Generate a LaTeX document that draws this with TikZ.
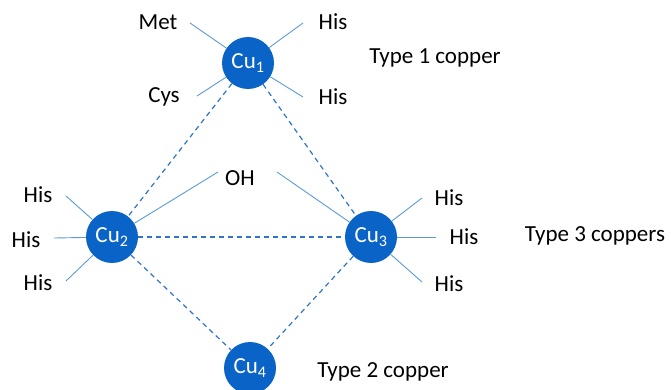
\documentclass[tikz,border=0pt]{standalone}
\usepackage{fontspec}
\setmainfont{Carlito}
\usetikzlibrary{positioning}
\definecolor{cublue}{HTML}{0A63C6}
\definecolor{bond}{HTML}{2E75C6}
\definecolor{ligand}{HTML}{5B9BD5}

\begin{document}
\begin{tikzpicture}[x=1pt, y=-1pt,
  copper/.style={circle, fill=cublue, minimum size=52pt,
                 inner sep=0pt, text=white, font=\fontsize{23}{27}\selectfont},
  label/.style={font=\fontsize{23}{27}\selectfont, text=black, inner sep=1pt},
  bond/.style={draw=bond, dash pattern=on 5pt off 4pt, line width=1.2pt},
  lig/.style={draw=ligand, line width=0.9pt},
]
  \useasboundingbox (0,0) rectangle (671,390);

  % copper centres
  \node[copper] (cu1) at (248,63)  {Cu\textsubscript{1}};
  \node[copper] (cu2) at (112,237) {Cu\textsubscript{2}};
  \node[copper] (cu3) at (371,237) {Cu\textsubscript{3}};
  \node[copper] (cu4) at (250,368) {Cu\textsubscript{4}};

  \draw[bond] (cu1) -- (cu2);
  \draw[bond] (cu1) -- (cu3);
  \draw[bond] (cu2) -- (cu3);
  \draw[bond] (cu2) -- (cu4);
  \draw[bond] (cu3) -- (cu4);

  % type 1
  \node[label] (met)  at (158,22) {Met};
  \node[label] (his1) at (333,22) {His};
  \node[label] (cys)  at (164,97) {Cys};
  \node[label] (his2) at (333,97) {His};
  \node[label] (t1)   at (435,58) {Type 1 copper};
  \coordinate (met-e)  at (190,23);
  \coordinate (his1-e) at (303,23);
  \coordinate (cys-e)  at (197,96);
  \coordinate (his2-e) at (303,97);
  \draw[lig] (met-e) -- (cu1);
  \draw[lig] (his1-e) -- (cu1);
  \draw[lig] (cys-e) -- (cu1);
  \draw[lig] (his2-e) -- (cu1);

  % type 3
  \node[label] (oh)   at (240,178) {OH};
  \coordinate (oh-w) at (218,172);
  \coordinate (oh-e) at (277,172);
  \draw[lig] (oh-w) -- (cu2);
  \draw[lig] (oh-e) -- (cu3);

  \node[label] (his3) at (38,195)  {His};
  \node[label] (his4) at (26,240)  {His};
  \node[label] (his5) at (38,283)  {His};
  \coordinate (his3-e) at (66,196);
  \coordinate (his4-e) at (54,238);
  \coordinate (his5-e) at (66,281);
  \draw[lig] (his3-e) -- (cu2);
  \draw[lig] (his4-e) -- (cu2);
  \draw[lig] (his5-e) -- (cu2);

  \node[label] (his6) at (449,198) {His};
  \node[label] (his7) at (464,237) {His};
  \node[label] (his8) at (449,284) {His};
  \coordinate (his6-w) at (422,198);
  \coordinate (his7-w) at (436,237);
  \coordinate (his8-w) at (422,282);
  \draw[lig] (his6-w) -- (cu3);
  \draw[lig] (his7-w) -- (cu3);
  \draw[lig] (his8-w) -- (cu3);
  \node[label] (t3) at (595,236) {Type 3 coppers};

  % type 2
  \node[label] (t2) at (383,372) {Type 2 copper};
\end{tikzpicture}
\end{document}
